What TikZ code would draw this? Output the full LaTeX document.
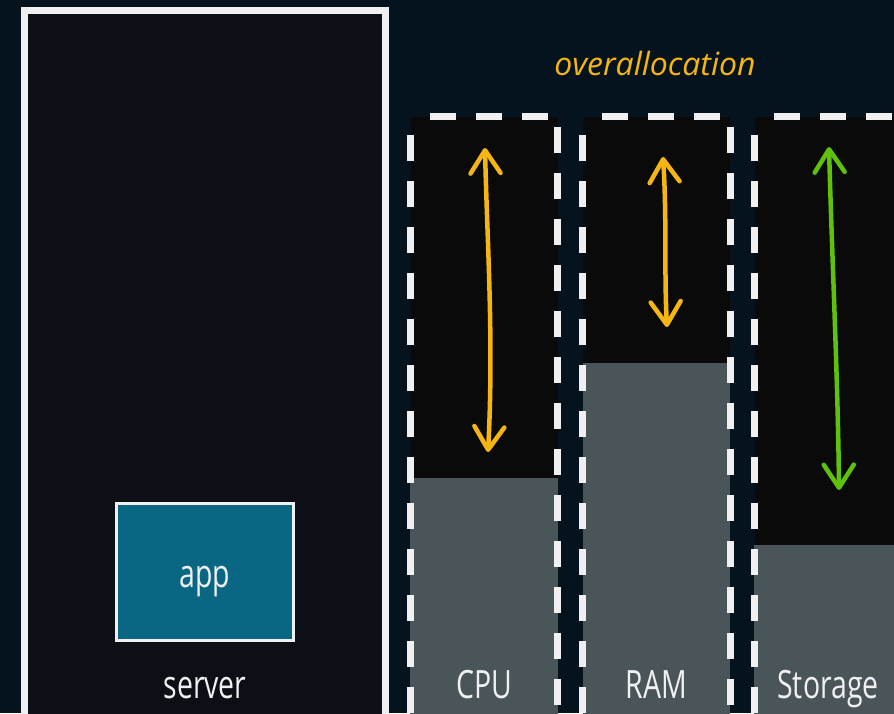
\documentclass[tikz,border=0pt]{standalone}
\usepackage{fontspec}
\newfontfamily\labelfont{Open Sans}[FakeStretch=0.73]
\newfontfamily\notefont{Open Sans}
\usetikzlibrary{arrows.meta,positioning,calc}
\definecolor{PageNavy}{HTML}{04131E}
\definecolor{ServerBlack}{HTML}{0C0F15}
\definecolor{ColumnBlack}{HTML}{0A0A0B}
\definecolor{AppTeal}{HTML}{0A6784}
\definecolor{BarGray}{HTML}{4A555A}
\definecolor{EdgeWhite}{HTML}{F0F0F0}
\definecolor{NoteGold}{HTML}{F5B512}
\definecolor{SpareGreen}{HTML}{5EC10C}

\begin{document}
\begin{tikzpicture}[x=1pt,y=-1pt,
    lab/.style={text=EdgeWhite,font=\labelfont\fontsize{39}{42}\selectfont,inner sep=0pt,anchor=base},
    serverbox/.style={draw=EdgeWhite,line width=7pt,fill=ServerBlack,minimum width=361pt,minimum height=730pt,inner sep=0pt},
    appbox/.style={draw=EdgeWhite,line width=3pt,fill=AppTeal,minimum width=177pt,minimum height=137pt,inner sep=0pt},
    colbox/.style={fill=ColumnBlack,minimum width=147pt,minimum height=643pt,inner sep=0pt},
    colline/.style={draw=EdgeWhite,line width=7pt,dash pattern=on 26pt off 20pt,dash phase=28pt},
    gauge/.style={line width=4.5pt,line cap=round,{Straight Barb[length=23pt,width=30pt,round]}-{Straight Barb[length=23pt,width=30pt,round]}}]
  \useasboundingbox (0,0) rectangle (894,713);
  \fill[PageNavy] (0,0) rectangle (894,713);
  \clip (0,0) rectangle (894,713);

  \node[serverbox] (server) at (205,375) {};
  \node[appbox] (app) at (205,572) {};
  \node[lab] (applab) at ($(app.center)+(0,15)$) {app};
  \node[lab] (serverlab) at (205,698) {server};

  \foreach \x/\bar/\lab/\n in {484/478/CPU/cpu,656.5/363/RAM/ram,828/545/Storage/sto}{
    \node[colbox] (col-\n) at (\x,438.5) {};
    \fill[BarGray] (col-\n.south west) rectangle ($(col-\n.north east)+(0,\bar-117)$);
    \draw[colline] (col-\n.north west) rectangle (col-\n.south east);
    \node[lab] (lab-\n) at (\x,698) {\lab};
  }

  \node[text=NoteGold,font=\notefont\itshape\fontsize{32}{34}\selectfont,anchor=base,inner sep=0pt] (over) at (655,75) {overallocation};

  \coordinate (cpu-hi) at (485,148);
  \coordinate (cpu-lo) at (488,452);
  \coordinate (ram-hi) at (663,157);
  \coordinate (ram-lo) at (667,327);
  \coordinate (sto-hi) at (829,147);
  \coordinate (sto-lo) at (839,490);
  \draw[gauge,NoteGold] (cpu-hi) .. controls (487,240) and (494,340) .. (cpu-lo);
  \draw[gauge,NoteGold] (ram-hi) .. controls (667,220) and (664,270) .. (ram-lo);
  \draw[gauge,SpareGreen] (sto-hi) .. controls (832,260) and (838,380) .. (sto-lo);
\end{tikzpicture}
\end{document}
